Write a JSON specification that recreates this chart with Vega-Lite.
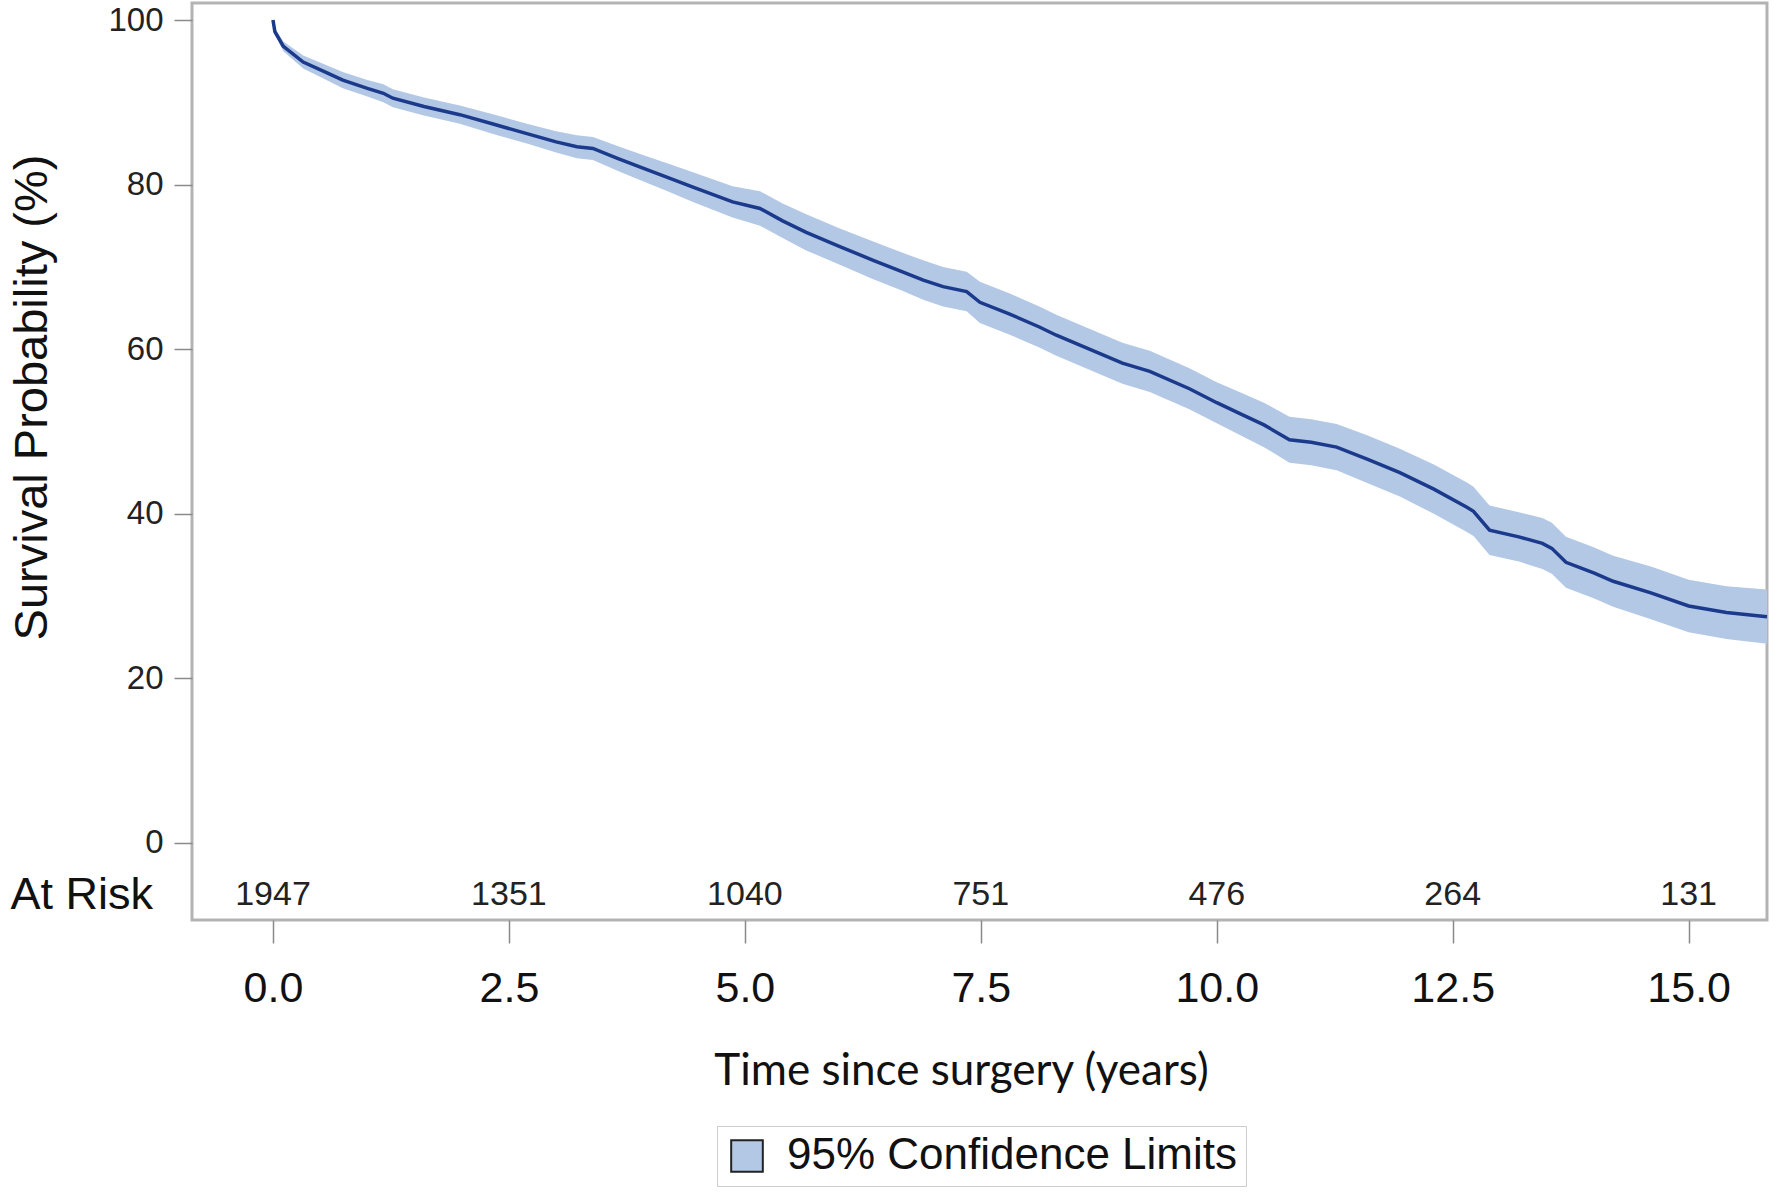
{
  "$schema": "https://vega.github.io/schema/vega-lite/v6.json",
  "autosize": "none",
  "width": 1575,
  "height": 917,
  "padding": {"left": 192, "top": 3, "right": 11, "bottom": 277},
  "background": "white",
  "config": {
    "view": {"stroke": "#b3b3b3", "strokeWidth": 3},
    "font": "Liberation Sans"
  },
  "datasets": {
    "km": [
      {"t": 0, "s": 100, "lo": 100, "hi": 100},
      {"t": 0.02, "s": 98.6, "lo": 98.2, "hi": 99.0},
      {"t": 0.11, "s": 96.8, "lo": 96.2, "hi": 97.4},
      {"t": 0.32, "s": 94.9, "lo": 94.1, "hi": 95.7},
      {"t": 0.55, "s": 93.7, "lo": 92.8, "hi": 94.6},
      {"t": 0.74, "s": 92.7, "lo": 91.7, "hi": 93.7},
      {"t": 1.0, "s": 91.7, "lo": 90.7, "hi": 92.7},
      {"t": 1.17, "s": 91.1, "lo": 90.0, "hi": 92.2},
      {"t": 1.27, "s": 90.5, "lo": 89.4, "hi": 91.6},
      {"t": 1.6, "s": 89.5, "lo": 88.4, "hi": 90.6},
      {"t": 1.98, "s": 88.5, "lo": 87.4, "hi": 89.6},
      {"t": 2.35, "s": 87.3, "lo": 86.1, "hi": 88.5},
      {"t": 2.69, "s": 86.2, "lo": 85.0, "hi": 87.4},
      {"t": 3.0, "s": 85.2, "lo": 83.9, "hi": 86.5},
      {"t": 3.22, "s": 84.6, "lo": 83.2, "hi": 86.0},
      {"t": 3.39, "s": 84.4, "lo": 83.0, "hi": 85.8},
      {"t": 3.65, "s": 83.2, "lo": 81.7, "hi": 84.7},
      {"t": 3.92, "s": 82.0, "lo": 80.4, "hi": 83.6},
      {"t": 4.2, "s": 80.8, "lo": 79.1, "hi": 82.5},
      {"t": 4.45, "s": 79.7, "lo": 77.9, "hi": 81.5},
      {"t": 4.87, "s": 77.9, "lo": 76.0, "hi": 79.8},
      {"t": 5.16, "s": 77.1, "lo": 75.0, "hi": 79.2},
      {"t": 5.4, "s": 75.6, "lo": 73.5, "hi": 77.7},
      {"t": 5.65, "s": 74.2, "lo": 72.0, "hi": 76.4},
      {"t": 6.0, "s": 72.5, "lo": 70.3, "hi": 74.7},
      {"t": 6.36, "s": 70.8, "lo": 68.5, "hi": 73.1},
      {"t": 6.65, "s": 69.5, "lo": 67.2, "hi": 71.8},
      {"t": 6.89, "s": 68.4, "lo": 66.0, "hi": 70.8},
      {"t": 7.1, "s": 67.6, "lo": 65.2, "hi": 70.0},
      {"t": 7.35, "s": 67.0, "lo": 64.6, "hi": 69.4},
      {"t": 7.49, "s": 65.7, "lo": 63.2, "hi": 68.2},
      {"t": 7.8, "s": 64.3, "lo": 61.8, "hi": 66.8},
      {"t": 8.12, "s": 62.7, "lo": 60.2, "hi": 65.2},
      {"t": 8.3, "s": 61.7, "lo": 59.2, "hi": 64.2},
      {"t": 8.65, "s": 60.0, "lo": 57.5, "hi": 62.5},
      {"t": 9.0, "s": 58.3, "lo": 55.8, "hi": 60.8},
      {"t": 9.29, "s": 57.3, "lo": 54.8, "hi": 59.8},
      {"t": 9.71, "s": 55.2, "lo": 52.7, "hi": 57.7},
      {"t": 10.0, "s": 53.5, "lo": 51.0, "hi": 56.0},
      {"t": 10.24, "s": 52.2, "lo": 49.6, "hi": 54.8},
      {"t": 10.5, "s": 50.8, "lo": 48.1, "hi": 53.5},
      {"t": 10.77, "s": 49.0, "lo": 46.2, "hi": 51.8},
      {"t": 11.0, "s": 48.7, "lo": 45.9, "hi": 51.5},
      {"t": 11.27, "s": 48.1, "lo": 45.3, "hi": 50.9},
      {"t": 11.6, "s": 46.6, "lo": 43.7, "hi": 49.5},
      {"t": 11.94, "s": 45.0, "lo": 42.1, "hi": 47.9},
      {"t": 12.3, "s": 43.0, "lo": 40.0, "hi": 46.0},
      {"t": 12.65, "s": 40.8, "lo": 37.8, "hi": 43.8},
      {"t": 12.72, "s": 40.3, "lo": 37.3, "hi": 43.3},
      {"t": 12.89, "s": 38.0, "lo": 35.0, "hi": 41.0},
      {"t": 13.2, "s": 37.2, "lo": 34.2, "hi": 40.2},
      {"t": 13.45, "s": 36.4, "lo": 33.3, "hi": 39.5},
      {"t": 13.55, "s": 35.8, "lo": 32.7, "hi": 38.9},
      {"t": 13.7, "s": 34.1, "lo": 31.0, "hi": 37.2},
      {"t": 14.0, "s": 32.8, "lo": 29.7, "hi": 35.9},
      {"t": 14.2, "s": 31.8, "lo": 28.7, "hi": 34.9},
      {"t": 14.6, "s": 30.4, "lo": 27.2, "hi": 33.6},
      {"t": 15.0, "s": 28.8, "lo": 25.6, "hi": 32.0},
      {"t": 15.4, "s": 28.0, "lo": 24.8, "hi": 31.2},
      {"t": 15.83, "s": 27.5, "lo": 24.2, "hi": 30.8}
    ],
    "risk": [
      {"t": 0, "n": "1947"},
      {"t": 2.5, "n": "1351"},
      {"t": 5, "n": "1040"},
      {"t": 7.5, "n": "751"},
      {"t": 10, "n": "476"},
      {"t": 12.5, "n": "264"},
      {"t": 15, "n": "131"}
    ],
    "riskLabel": [{"label": "At Risk", "t": -0.858}]
  },
  "encoding": {
    "x": {
      "field": "t",
      "type": "quantitative",
      "scale": {"domain": [-0.858, 15.83], "nice": false, "zero": false},
      "axis": {
        "title": "Time since surgery (years)",
        "values": [0, 2.5, 5, 7.5, 10, 12.5, 15],
        "format": ".1f",
        "grid": false,
        "domain": false,
        "tickSize": 23,
        "tickColor": "#8a8a8a",
        "tickWidth": 1.5,
        "labelFont": "Liberation Sans",
        "labelFontSize": 43,
        "labelColor": "#111111",
        "labelPadding": 24,
        "titleFont": "Lato",
        "titleFontSize": 44,
        "titleFontWeight": "normal",
        "titleColor": "#111111",
        "titleX": 769,
        "titleY": 164,
        "titleBaseline": "alphabetic"
      }
    }
  },
  "layer": [
    {
      "data": {"name": "km"},
      "mark": {"type": "area", "opacity": 1},
      "encoding": {
        "y": {
          "field": "lo",
          "type": "quantitative",
          "scale": {"domain": [-9.36, 102.07], "nice": false, "zero": false},
          "axis": {
            "title": "Survival Probability (%)",
            "values": [0, 20, 40, 60, 80, 100],
            "grid": false,
            "domain": false,
            "tickSize": 18,
            "tickColor": "#8a8a8a",
            "tickWidth": 1.5,
            "labelFont": "Liberation Sans",
            "labelFontSize": 33,
            "labelColor": "#222222",
            "labelPadding": 11,
            "titleFont": "Liberation Sans",
            "titleFontSize": 47,
            "titleFontWeight": "normal",
            "titleColor": "#111111",
            "titleAngle": -90,
            "titleBaseline": "middle",
            "titleX": -160,
            "titleY": 394
          }
        },
        "y2": {"field": "hi"},
        "fill": {
          "datum": "95% Confidence Limits",
          "type": "nominal",
          "scale": {"range": ["#b3c8e5"]},
          "legend": {
            "title": null,
            "orient": "none",
            "legendX": 525,
            "legendY": 1123,
            "symbolType": "square",
            "symbolSize": 1000,
            "symbolStrokeColor": "#222222",
            "symbolStrokeWidth": 2,
            "symbolOpacity": 1,
            "labelFont": "Liberation Sans",
            "labelFontSize": 44,
            "labelColor": "#111111",
            "labelOffset": 18,
            "labelLimit": 600,
            "padding": 8,
            "strokeColor": "#cccccc",
            "fillColor": "white"
          }
        }
      }
    },
    {
      "data": {"name": "km"},
      "mark": {"type": "line", "color": "#1b3a8c", "strokeWidth": 3.5},
      "encoding": {
        "y": {"field": "s", "type": "quantitative"}
      }
    },
    {
      "data": {"name": "risk"},
      "mark": {"type": "text", "font": "Liberation Sans", "fontSize": 34, "color": "#222222", "baseline": "middle", "align": "center"},
      "encoding": {
        "y": {"datum": -6.3, "type": "quantitative"},
        "text": {"field": "n"}
      }
    },
    {
      "data": {"name": "riskLabel"},
      "mark": {"type": "text", "font": "Liberation Sans", "fontSize": 45, "color": "#111111", "baseline": "middle", "align": "right", "dx": -39},
      "encoding": {
        "y": {"datum": -6.3, "type": "quantitative"},
        "text": {"field": "label"}
      }
    }
  ]
}
